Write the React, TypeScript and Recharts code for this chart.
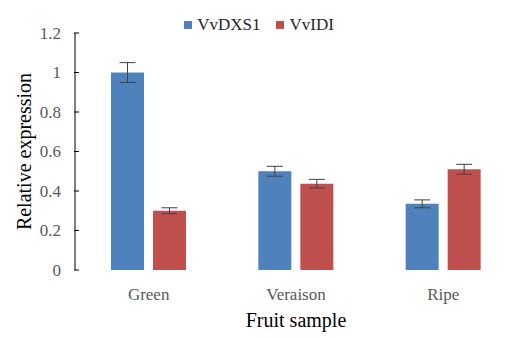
import { BarChart, Bar, XAxis, YAxis, ErrorBar, Legend } from "recharts";

const SAMPLES = ["Green", "Veraison", "Ripe"];
const DXS1 = [1.0, 0.5, 0.335];
const DXS1_ERR = [0.05, 0.025, 0.02];
const IDI = [0.3, 0.437, 0.51];
const IDI_ERR = [0.015, 0.022, 0.025];
const Y_TICKS = [0, 0.2, 0.4, 0.6, 0.8, 1, 1.2];
const EDGE_TICKS = [0, 1, 2, 3];

const BLUE = "#4F81BD";
const RED = "#C0504D";
const FONT = "Liberation Serif";

const rows = SAMPLES.map((name, i) => ({
  name,
  dxs1: DXS1[i],
  dxs1Err: DXS1_ERR[i],
  idi: IDI[i],
  idiErr: IDI_ERR[i],
}));

function YTick(props: any) {
  const { x, y, payload } = props;
  return (
    <g>
      <line x1={x + 13} x2={x + 18} y1={y} y2={y} stroke="#000" />
      <text x={x} y={y} dy="0.35em" textAnchor="end" fill="#595959" fontSize={17} fontFamily={FONT}>
        {payload.value}
      </text>
    </g>
  );
}

function EdgeTick(props: any) {
  const { x, y } = props;
  return <line x1={x} x2={x} y1={y} y2={y - 5} stroke="#000" />;
}

function LegendBox() {
  const items = [
    { label: "VvDXS1", color: BLUE },
    { label: "VvIDI", color: RED },
  ];
  return (
    <div style={{ display: "flex", justifyContent: "center", gap: 16, fontFamily: FONT, fontSize: 17, color: "#262626" }}>
      {items.map((it) => (
        <span key={it.label} style={{ display: "flex", alignItems: "center", gap: 5 }}>
          <span style={{ width: 8, height: 8, background: it.color, display: "inline-block" }} />
          {it.label}
        </span>
      ))}
    </div>
  );
}

export default function App() {
  return (
    <div style={{ position: "absolute", left: 0, top: 0, width: 518, height: 338, background: "#fff", fontFamily: FONT }}>
      <BarChart
        width={518}
        height={338}
        data={rows}
        margin={{ top: 13, right: 1, left: 0, bottom: 0 }}
        barSize={33}
        barGap={9}
        style={{ fontFamily: FONT }}
      >
        <XAxis
          xAxisId="edge"
          type="number"
          domain={[0, 3]}
          ticks={EDGE_TICKS}
          height={0}
          tickSize={0}
          tickMargin={0}
          tick={<EdgeTick />}
          axisLine={{ stroke: "#000" }}
          allowDataOverflow
        />
        <XAxis
          dataKey="name"
          height={68}
          axisLine={false}
          tickLine={false}
          tickMargin={12}
          tick={{ fill: "#595959", fontSize: 17, fontFamily: FONT }}
          label={{ value: "Fruit sample", position: "insideBottom", offset: 11, fill: "#000", fontSize: 20, fontFamily: FONT }}
        />
        <YAxis
          width={75}
          domain={[0, 1.2]}
          ticks={Y_TICKS}
          tickSize={0}
          tickMargin={14}
          tickLine={false}
          tick={<YTick />}
          axisLine={{ stroke: "#000" }}
          label={{
            value: "Relative expression",
            angle: -90,
            position: "insideLeft",
            offset: 24,
            fill: "#000",
            fontSize: 20,
            fontFamily: FONT,
            style: { textAnchor: "middle" },
          }}
        />
        <Legend
          layout="vertical"
          align="center"
          verticalAlign="top"
          content={<LegendBox />}
          wrapperStyle={{ top: 15, left: 0, width: 518 }}
        />
        <Bar dataKey="dxs1" name="VvDXS1" fill={BLUE} isAnimationActive={false}>
          <ErrorBar dataKey="dxs1Err" width={8} stroke="#404040" strokeWidth={1} isAnimationActive={false} />
        </Bar>
        <Bar dataKey="idi" name="VvIDI" fill={RED} isAnimationActive={false}>
          <ErrorBar dataKey="idiErr" width={8} stroke="#404040" strokeWidth={1} isAnimationActive={false} />
        </Bar>
      </BarChart>
    </div>
  );
}
